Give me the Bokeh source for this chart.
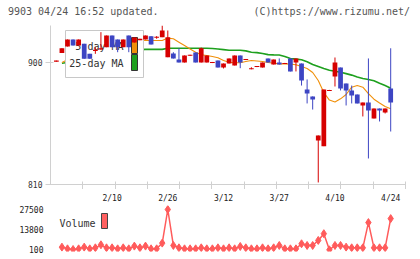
from bokeh.plotting import figure
from bokeh.models import Range1d, FixedTicker, ColumnDataSource, Div
from bokeh.layouts import column
from bokeh.embed import file_html
from bokeh.resources import INLINE
from bokeh.core.properties import value

NAN = float("nan")

# ---------------- data ----------------
dates = ["1/27", "1/28", "1/29", "1/30", "1/31", "2/3", "2/4", "2/5", "2/6", "2/7",
         "2/10", "2/12", "2/13", "2/14", "2/17", "2/18", "2/19", "2/20", "2/21", "2/25",
         "2/26", "2/27", "2/28", "3/3", "3/4", "3/5", "3/6", "3/7", "3/10", "3/11",
         "3/12", "3/13", "3/14", "3/17", "3/18", "3/19", "3/21", "3/24", "3/25", "3/26",
         "3/27", "3/28", "3/31", "4/1", "4/2", "4/3", "4/4", "4/7", "4/8", "4/9",
         "4/10", "4/11", "4/14", "4/15", "4/16", "4/17", "4/18", "4/21", "4/22", "4/23",
         "4/24"]

opens = [900.6, 907.0, 911.8, 917.0, 912.5, 913.8, 906.4, 908.5, 909.6, 911.3,
         919.9, 917.0, 911.3, 919.9, 914.7, 916.5, 917.0, 919.4, 918.2, 918.7,
         903.9, 906.6, 902.2, 900.0, 904.9, 907.4, 900.0, 900.0, 899.6, 901.5,
         896.3, 899.3, 897.8, 905.2, 901.8, 895.0, 896.6, 896.3, 903.0, 898.5,
         900.0, 898.9, 903.0, 900.0, 899.3, 880.0, 874.9, 842.5, 838.3, 879.0,
         889.7, 896.3, 884.5, 879.4, 876.4, 868.3, 870.5, 858.7, 866.1, 863.1,
         880.8]
highs = [901.4, 910.5, 917.0, 917.0, 917.0, 913.8, 906.4, 911.3, 922.4, 919.9,
         919.9, 917.0, 917.0, 919.9, 918.4, 917.5, 919.9, 919.4, 919.5, 927.3,
         923.6, 907.6, 910.5, 905.2, 905.7, 907.4, 911.0, 905.2, 900.4, 901.5,
         899.3, 903.0, 905.2, 905.2, 902.6, 896.5, 897.4, 900.0, 903.0, 902.2,
         903.0, 899.7, 903.0, 903.0, 899.3, 887.5, 875.0, 846.2, 880.1, 879.8,
         903.7, 896.3, 884.5, 883.0, 876.4, 870.5, 903.0, 866.1, 866.1, 866.1,
         910.5]
lows = [900.6, 907.0, 911.8, 912.5, 912.5, 902.7, 902.7, 906.4, 909.3, 911.3,
        911.3, 907.6, 911.3, 907.6, 914.7, 916.5, 917.0, 913.3, 917.5, 918.7,
        903.9, 902.9, 900.0, 900.0, 904.9, 900.0, 900.0, 900.0, 899.6, 896.3,
        895.6, 899.3, 897.8, 895.8, 901.8, 895.0, 896.6, 896.3, 900.0, 898.5,
        898.5, 898.9, 893.4, 893.4, 883.0, 869.8, 865.3, 811.5, 838.3, 879.0,
        882.3, 879.4, 868.3, 869.8, 869.8, 860.2, 829.2, 858.7, 856.5, 862.4,
        849.1]
closes = [901.4, 910.5, 917.0, 912.5, 917.0, 902.7, 902.7, 909.5, 910.5, 919.9,
          911.3, 911.3, 917.0, 911.3, 918.4, 917.5, 919.9, 913.3, 919.0, 923.6,
          918.7, 902.9, 900.0, 905.2, 905.7, 900.0, 910.5, 905.2, 900.4, 896.3,
          899.3, 903.0, 905.2, 900.0, 902.6, 895.8, 897.4, 900.0, 900.0, 902.2,
          898.5, 899.7, 893.4, 903.0, 886.7, 877.1, 872.7, 846.2, 880.1, 879.8,
          900.0, 880.8, 879.4, 875.7, 869.8, 870.5, 864.6, 866.1, 864.6, 866.1,
          870.5]

ma5 = [NAN, 900.0, 902.0, 905.0, 909.0, 909.0, 909.0, 909.0, 907.0, 908.0,
       909.0, 911.0, 913.0, 914.0, 915.0, 916.6, 916.2, 916.2, 916.2, 916.2,
       918.0, 917.5, 915.0, 912.5, 910.0, 907.6, 905.7, 905.2, 904.4, 903.5,
       901.5, 900.2, 899.8, 899.8, 900.7, 901.5, 901.1, 900.7, 900.0, 899.5,
       899.0, 899.0, 898.8, 898.3, 897.0, 895.6, 892.6, 886.7, 877.9, 872.3,
       870.9, 873.2, 876.4, 881.8, 883.0, 881.8, 877.1, 872.9, 870.1, 867.6,
       865.9]
ma25 = [NAN, 899.5, 900.0, 901.0, 902.0, 902.5, 903.0, 904.0, 904.5, 905.5,
        906.0, 906.5, 907.0, 908.0, 909.0, 909.5, 909.7, 909.7, 909.7, 909.7,
        910.5, 910.5, 910.5, 910.5, 910.5, 910.5, 910.5, 910.5, 910.3, 910.0,
        909.5, 909.0, 909.0, 909.0, 908.6, 907.6, 907.3, 906.6, 905.8, 905.6,
        905.5, 904.5, 903.0, 902.5, 902.0, 900.5, 898.5, 897.0, 895.5, 894.3,
        893.5, 892.8, 891.8, 890.7, 889.3, 888.2, 887.5, 886.5, 884.7, 883.0,
        881.0]

volume = [NAN, 1900, 760, 300, 760, 1900, 760, 1450, 3500, 1450,
          1450, 760, 1450, 760, 2600, 1450, 2600, 760, 760, 4650,
          27500, 3050, 1450, 760, 760, 760, 1450, 760, 760, 1450,
          760, 1450, 760, 2360, 1450, 760, 760, 1450, 760, 1450,
          3050, 760, 760, 760, 4200, 3050, 3050, 6470, 11060, 100,
          3050, 3050, 1900, 1450, 1450, 1450, 18600, 1450, 1450, 1450,
          21300]

tick_idx = [10, 20, 30, 40, 50, 60]
tick_labels = ["2/10", "2/26", "3/12", "3/27", "4/10", "4/24"]
price_ticks = [810, 900]
vol_ticks = [100, 13800, 27500]
header_left = "9903 04/24 16:52 updated."
header_right = "(C)https://www.rizumu.net/"

# ---------------- layout helpers (page pixels) ----------------
W = 412
X0_PX, DX = 55.85, 5.5725          # page-pixel of first day, pixels per day
F_LEFT, F_RIGHT = 50, 405          # frame edges
HDR_H = 25                         # header strip height
M_TOP, M_BOT = 25, 184             # main frame top/bottom
P_LO, P_HI = 810, 927.3
V_FIG_TOP, V_TOP, V_BOT = 189, 205, 251


def mx(px):
    return (px - X0_PX) / DX


def my(py):
    return P_LO + (M_BOT - py) / (M_BOT - M_TOP) * (P_HI - P_LO)


V_PER_PX = (27500 - 100) / (249.3 - 209)
v_hi = 27500 + (209 - V_TOP) * V_PER_PX
v_lo = 100 - (V_BOT - 249.3) * V_PER_PX


def vy(py):
    return v_lo + (V_BOT - py) * V_PER_PX


MONO = "DejaVu Sans Mono"
RED, BLUE = "#d60000", "#3d45c3"
ORANGE, GREEN = "#f0900a", "#1ea01e"
GRID = "#d0d0d0"
VCOL = "#ff5b5b"

n = len(closes)
xs = list(range(n))
up = [c >= o for o, c in zip(opens, closes)]
src = ColumnDataSource(dict(
    x=xs, o=opens, h=highs, l=lows, c=closes,
    top=[max(o, c) for o, c in zip(opens, closes)],
    bot=[min(o, c) for o, c in zip(opens, closes)],
    col=[RED if u else BLUE for u in up],
    ma5=ma5, ma25=ma25,
))

x_range = Range1d(mx(F_LEFT), mx(F_RIGHT))


def bare(fig):
    fig.xgrid.visible = False
    fig.ygrid.visible = False
    return fig


# ---------------- header strip ----------------
span_css = "position:absolute;top:6px;white-space:pre;"
header = Div(
    text=(f'<div style="position:relative;width:{W}px;height:{HDR_H}px;'
          f"font-family:'{MONO}',monospace;font-size:10px;line-height:normal;color:#555;\">"
          f'<span style="{span_css}left:8px;">{header_left}</span>'
          f'<span style="{span_css}right:2px;">{header_right}</span></div>'),
    width=W, height=HDR_H, margin=0)

# ---------------- main price figure ----------------
p = bare(figure(width=W, height=V_FIG_TOP - HDR_H, x_range=x_range,
                y_range=Range1d(P_LO, P_HI),
                output_backend="svg", toolbar_location=None, title=None,
                min_border_left=F_LEFT, min_border_right=W - F_RIGHT,
                min_border_top=M_TOP - HDR_H, min_border_bottom=V_FIG_TOP - M_BOT,
                outline_line_color=None))

xa = p.xaxis[0]
span = mx(F_RIGHT) - mx(F_LEFT)
xa.ticker = FixedTicker(ticks=[],
                        minor_ticks=[mx(F_LEFT) + k * span / 11 for k in range(1, 12)])
xa.axis_line_color = GRID
xa.major_tick_line_color = None
xa.major_tick_in = 0
xa.major_tick_out = 0
xa.minor_tick_line_color = GRID
xa.minor_tick_in = 3
xa.minor_tick_out = 5
xa.major_label_standoff = 0
xa.major_label_text_font_size = "0px"

ya = p.yaxis[0]
ya.ticker = FixedTicker(ticks=price_ticks, minor_ticks=[])
ya.axis_line_color = GRID
ya.major_tick_line_color = GRID
ya.major_tick_in = 3
ya.major_tick_out = 5
ya.major_label_standoff = 3
ya.major_label_text_font = MONO
ya.major_label_text_font_size = "8px"
ya.major_label_text_color = "#333"

# moving averages
p.line("x", "ma25", source=src, line_color=GREEN, line_width=1.6)
p.line("x", "ma5", source=src, line_color=ORANGE, line_width=1.1)

# legend box (drawn under the candles, over the lines)
p.quad(left=[mx(65)], right=[mx(143)], top=[my(30)], bottom=[my(77)],
       fill_color="white", line_color="#c8c8c8", line_width=1)
p.text(x=[mx(123), mx(123)], y=[my(46), my(62.5)], text=["5-day MA", "25-day MA"],
       text_align="right", text_baseline="middle", text_font=value(MONO),
       text_font_size="10px", text_color="#333")
p.quad(left=[mx(131), mx(131)], right=[mx(137), mx(137)],
       top=[my(37), my(54)], bottom=[my(53), my(70)],
       fill_color=[ORANGE, GREEN], line_color="#333", line_width=1)

# candles
p.segment(x0="x", y0="l", x1="x", y1="h", source=src, line_color="col", line_width=1)
p.vbar(x="x", width=0.85, top="top", bottom="bot", source=src,
       fill_color="col", line_color=None)

# ---------------- volume figure ----------------
v = bare(figure(width=W, height=V_BOT + 3 - V_FIG_TOP, x_range=x_range,
                y_range=Range1d(v_lo, v_hi),
                output_backend="svg", toolbar_location=None, title=None,
                x_axis_location="above", min_border_left=F_LEFT,
                min_border_right=W - F_RIGHT, min_border_top=V_TOP - V_FIG_TOP,
                min_border_bottom=3, outline_line_color=None))
vx = v.xaxis[0]
vx.ticker = FixedTicker(ticks=tick_idx, minor_ticks=[])
vx.major_label_overrides = {t: lab for t, lab in zip(tick_idx, tick_labels)}
vx.axis_line_color = None
vx.major_tick_line_color = None
vx.minor_tick_line_color = None
vx.major_tick_in = 0
vx.major_tick_out = 0
vx.minor_tick_in = 0
vx.minor_tick_out = 0
vx.major_label_standoff = 3
vx.major_label_text_font = MONO
vx.major_label_text_font_size = "8px"
vx.major_label_text_color = "#222"

va = v.yaxis[0]
va.ticker = FixedTicker(ticks=vol_ticks, minor_ticks=[])
va.major_label_overrides = {t: str(t) for t in vol_ticks}
va.axis_line_color = None
va.major_tick_line_color = None
va.major_tick_in = 0
va.major_tick_out = 0
va.major_label_standoff = 7
va.major_label_text_font = MONO
va.major_label_text_font_size = "8px"
va.major_label_text_color = "#222"

vsrc = ColumnDataSource(dict(x=xs, v=volume))
v.line("x", "v", source=vsrc, line_color=VCOL, line_width=1.5)
v.scatter("x", "v", source=vsrc, marker="diamond", size=8,
          fill_color=VCOL, line_color=VCOL)
v.text(x=[mx(59)], y=[vy(222.5)], text=["Volume"], text_align="left",
       text_baseline="middle", text_font=value(MONO), text_font_size="10px",
       text_color="#333")
v.quad(left=[mx(101)], right=[mx(107)], top=[vy(213)], bottom=[vy(228)],
       fill_color="#ff6060", line_color="#444", line_width=1)

layout = column(header, p, v)
open("out.html", "w").write(file_html(layout, INLINE))
